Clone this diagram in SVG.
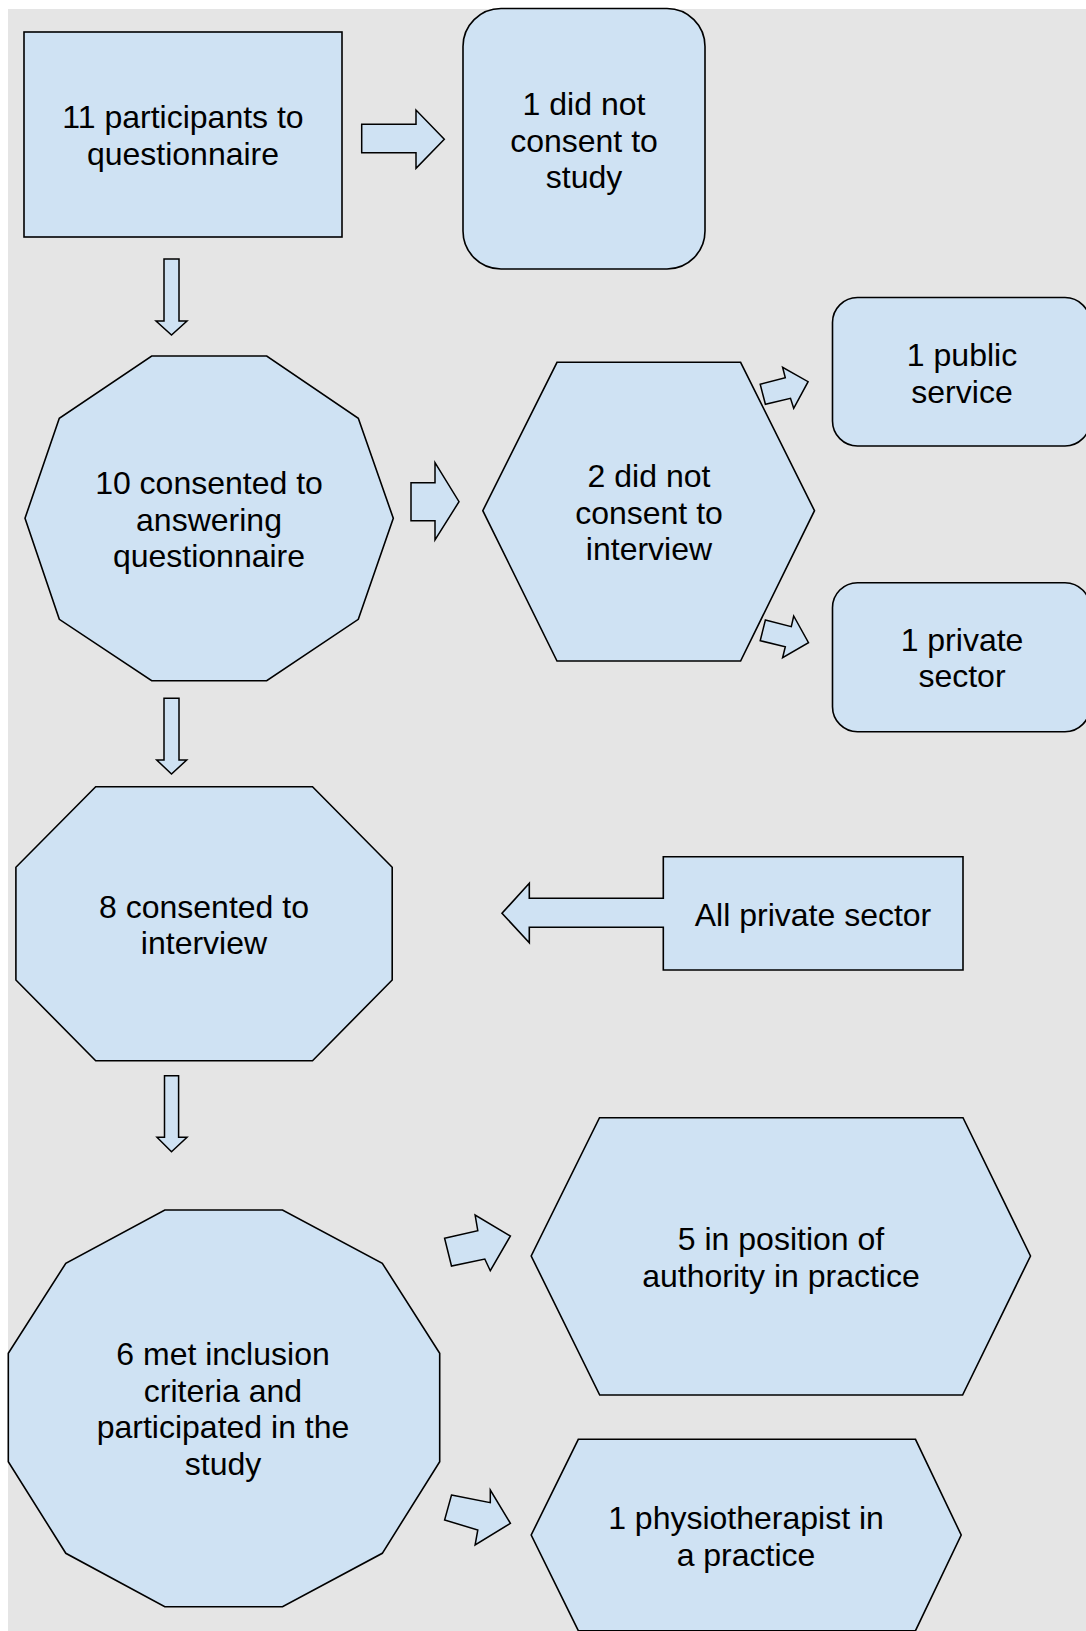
<svg xmlns="http://www.w3.org/2000/svg" width="1086" height="1631" viewBox="0 0 1086 1631">
  <style>
    .shape { fill: #cfe2f3; stroke: #000000; stroke-width: 1.6; stroke-linejoin: miter; }
    .arrow { fill: #cfe2f3; stroke: #000000; stroke-width: 1.5; stroke-linejoin: miter; }
    .label { font-family: "Liberation Sans", Arial, sans-serif; font-size: 32px; fill: #000000; text-anchor: middle; }
  </style>
  <rect x="0" y="0" width="1086" height="1631" fill="#ffffff"/>
  <rect x="8" y="9" width="1078" height="1622" fill="#e5e5e5"/>

  <g id="connectors">
    <polygon class="arrow" points="361.7,124.3 416,124.3 416,110 444.3,139.3 416,168.3 416,152.7 361.7,152.7"/>
    <polygon class="arrow" points="164,259 179,259 179,321 187,321 171.5,335 156,321 164,321"/>
    <polygon class="arrow" points="411,482.7 435,482.7 435,462.7 459,501.7 435,540 435,520.7 411,520.7"/>
    <polygon class="arrow" points="164,698.3 179,698.3 179,760 186.7,760 171.5,774 156.7,760 164,760"/>
    <polygon class="arrow" points="760.2,384.3 785.3,377.7 782.6,367.3 808.1,381.7 793.7,408.3 790.5,398.3 765.4,404.3"/>
    <polygon class="arrow" points="765.4,620 791.3,626.7 793.7,616 808.5,642.7 782.6,657.7 785.3,646.7 760.2,640.7"/>
    <polygon class="arrow" points="164.5,1075.7 178.6,1075.7 178.6,1137.3 187,1137.3 171.5,1151.7 157,1137.3 164.5,1137.3"/>
    <polygon class="arrow" points="444.6,1238.3 477.8,1230.7 475.1,1215 510.4,1236 490.3,1270.7 484.8,1259 451.5,1266"/>
    <polygon class="arrow" points="451.5,1495 490.3,1502.7 490.3,1490 510.4,1523.3 475.1,1545 477.8,1530 444.6,1520"/>
  </g>

  <g id="node-participants">
    <rect class="shape" x="24" y="32" width="318" height="205"/>
    <text class="label" x="183" y="128">11 participants to</text>
    <text class="label" x="183" y="165">questionnaire</text>
  </g>

  <g id="node-no-consent-study">
    <rect class="shape" x="463" y="8.5" width="242" height="260.5" rx="38" ry="38"/>
    <text class="label" x="584" y="115">1 did not</text>
    <text class="label" x="584" y="151.7">consent to</text>
    <text class="label" x="584" y="188.4">study</text>
  </g>

  <g id="node-consented-questionnaire">
    <polygon class="shape" points="151.7,356 266.7,356 358.3,418.3 393.3,518.3 358.3,619.3 266.7,680.7 151.7,680.7 59.3,619.3 25,518.3 59.3,418.3"/>
    <text class="label" x="209" y="494">10 consented to</text>
    <text class="label" x="209" y="530.7">answering</text>
    <text class="label" x="209" y="567.4">questionnaire</text>
  </g>

  <g id="node-no-consent-interview">
    <polygon class="shape" points="557,362.3 740.6,362.3 814.5,510.7 740.6,661 557,661 482.8,510.7"/>
    <text class="label" x="649" y="487">2 did not</text>
    <text class="label" x="649" y="523.7">consent to</text>
    <text class="label" x="649" y="560.4">interview</text>
  </g>

  <g id="node-public-service">
    <rect class="shape" x="832.5" y="297.5" width="257.5" height="148.5" rx="25" ry="25"/>
    <text class="label" x="962" y="366.3">1 public</text>
    <text class="label" x="962" y="403">service</text>
  </g>

  <g id="node-private-sector">
    <rect class="shape" x="832.5" y="582.7" width="257.5" height="149" rx="25" ry="25"/>
    <text class="label" x="962" y="650.5">1 private</text>
    <text class="label" x="962" y="687.2">sector</text>
  </g>

  <g id="node-consented-interview">
    <polygon class="shape" points="95.7,786.7 312.5,786.7 392.2,867.3 392.2,980 312.5,1060.7 95.7,1060.7 15.9,980 15.9,867.3"/>
    <text class="label" x="204" y="917.5">8 consented to</text>
    <text class="label" x="204" y="954.2">interview</text>
  </g>

  <g id="node-all-private">
    <path class="shape" d="M663.3,856.7 H963 V970 H663.3 V927.3 H529.3 V942.7 L502,913.3 L529.3,883.3 V898.3 H663.3 Z"/>
    <text class="label" x="813" y="925.5">All private sector</text>
  </g>

  <g id="node-met-inclusion">
    <polygon class="shape" points="164.8,1210 282.5,1210 382.3,1263.3 439.7,1353.3 439.7,1461.7 382.3,1553.3 282.5,1606.7 164.8,1606.7 65.8,1553.3 8.3,1461.7 8.3,1353.3 65.8,1263.3"/>
    <text class="label" x="223" y="1365">6 met inclusion</text>
    <text class="label" x="223" y="1401.7">criteria and</text>
    <text class="label" x="223" y="1438.4">participated in the</text>
    <text class="label" x="223" y="1475.1">study</text>
  </g>

  <g id="node-authority">
    <polygon class="shape" points="599.5,1117.7 963,1117.7 1030.5,1256 962.6,1395 599.7,1395 531.2,1256"/>
    <text class="label" x="781" y="1250">5 in position of</text>
    <text class="label" x="781" y="1286.7">authority in practice</text>
  </g>

  <g id="node-physiotherapist">
    <polygon class="shape" points="578.3,1439.3 915.5,1439.3 961.2,1535 915.5,1630.7 578.3,1630.7 531.2,1535"/>
    <text class="label" x="746" y="1529">1 physiotherapist in</text>
    <text class="label" x="746" y="1565.7">a practice</text>
  </g>
</svg>
